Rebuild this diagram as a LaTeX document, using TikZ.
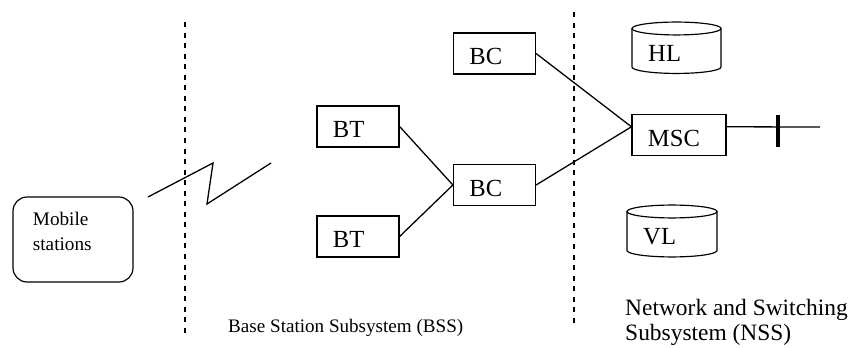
\documentclass[tikz,border=0pt]{standalone}
\usepackage{fontspec}
\setmainfont{Liberation Serif}
\usetikzlibrary{calc}
\tikzset{
 unit/.style={draw,line width=1pt,inner xsep=13.6pt,inner ysep=0pt,align=left,text width=42.8pt,text height=27.3pt,text depth=7.7pt,font=\fontsize{21}{25}\selectfont},
 link/.style={line width=1.1pt},
 border/.style={line width=1.1pt,dash pattern=on 4.3pt off 4.7pt},
 store/.style={line width=1pt}
}
\begin{document}
\begin{tikzpicture}[x=0.03cm,y=-0.03cm]
\useasboundingbox(0,0)rectangle(852,348);
% subsystem borders
\draw[border](185,22)--(185,335);\draw[border](574,12)--(574,326);
% mobile side
\node[draw,line width=1pt,rounded corners=12pt,minimum width=102.4pt,minimum height=72.5pt,inner xsep=17pt,inner ysep=0pt,text width=68.4pt,align=left,text height=24.75pt,text depth=47.8pt,font=\fontsize{16.4}{21.3}\selectfont](mobile)at(73,239.5){Mobile\\stations};
\draw[link](148,197)--(213,163)--(207,204)--(271,163);
% BSS
\node[unit](bt1)at(358,126.5){BT};\node[unit](bt2)at(358,236.5){BT};
\node[unit](bc1)at(494.5,53.5){BC};\node[unit](bc2)at(494.5,185){BC};
\draw[link](bt1.east)--(bc2.west);\draw[link](bt2.east)--(bc2.west);
% NSS
\node[unit,text width=53pt](msc)at(679,135){MSC};
\coordinate(trunk)at(820,127);
\draw[link](bc1.east)--([yshift=7pt]msc.west);\draw[link](bc2.east)--([yshift=7pt]msc.west);
\draw[link]([yshift=7pt]msc.east)--(trunk);\draw[line width=3.4pt](778,115)--(778,147);
\draw[store](676.5,28.5)ellipse[x radius=38pt,y radius=5.5pt];
\draw[store](632,28.5)--(632,67)arc[start angle=180,end angle=360,x radius=38pt,y radius=5.5pt]--(721,28.5);
\node[anchor=base west,inner sep=0pt,font=\fontsize{21}{25}\selectfont](hl)at(648,62){HL};
\draw[store](672,211.5)ellipse[x radius=38.4pt,y radius=5.5pt];
\draw[store](627,211.5)--(627,250.5)arc[start angle=180,end angle=360,x radius=38.4pt,y radius=5.5pt]--(717,211.5);
\node[anchor=base west,inner sep=0pt,font=\fontsize{21}{25}\selectfont](vl)at(643,245){VL};
% captions
\node[anchor=base west,inner sep=0pt,font=\fontsize{16.3}{20}\selectfont](bss)at(228,332){Base Station Subsystem (BSS)};
\node[anchor=base west,inner sep=0pt,align=left,font=\fontsize{20}{21.3}\selectfont](nss)at(625,340){Network and Switching\\Subsystem (NSS)};
\end{tikzpicture}
\end{document}
